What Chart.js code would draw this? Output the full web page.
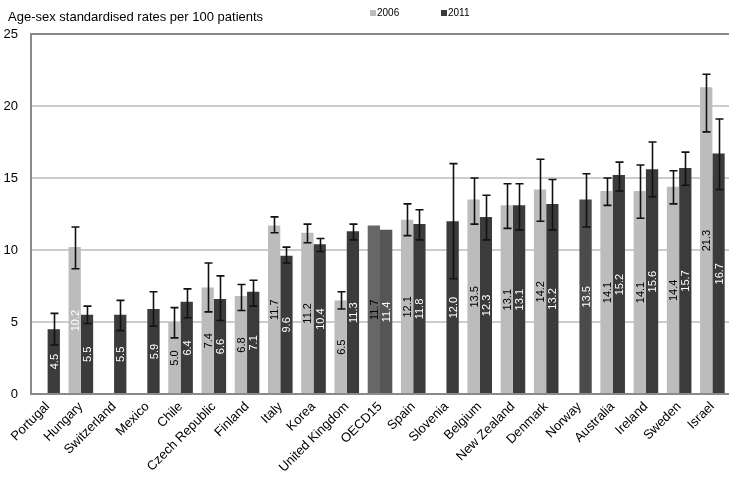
<!DOCTYPE html>
<html>
<head>
<meta charset="utf-8">
<script src="https://cdn.jsdelivr.net/npm/chart.js@4.4.1/dist/chart.umd.min.js"></script>
<style>
  html, body { margin: 0; padding: 0; background: #fff; }
  #wrap { width: 729px; height: 478px; position: relative; }
</style>
</head>
<body>
<div id="wrap"><canvas id="c"></canvas></div>
<script>
// Countries, in ascending order of the 2011 rate
const countries = ['Portugal', 'Hungary', 'Switzerland', 'Mexico', 'Chile', 'Czech Republic', 'Finland',
  'Italy', 'Korea', 'United Kingdom', 'OECD15', 'Spain', 'Slovenia', 'Belgium', 'New Zealand',
  'Denmark', 'Norway', 'Australia', 'Ireland', 'Sweden', 'Israel'];

// Age-sex standardised rates per 100 patients
const rates2006 = [null, 10.2, null, null, 5.0, 7.4, 6.8, 11.7, 11.2, 6.5, 11.7, 12.1, null, 13.5, 13.1, 14.2, null, 14.1, 14.1, 14.4, 21.3];
const rates2011 = [4.5, 5.5, 5.5, 5.9, 6.4, 6.6, 7.1, 9.6, 10.4, 11.3, 11.4, 11.8, 12.0, 12.3, 13.1, 13.2, 13.5, 15.2, 15.6, 15.7, 16.7];

// 95% confidence intervals
const low2006  = [null, 8.7, null, null, 3.9, 5.7, 5.8, 11.2, 10.5, 5.9, null, 11.0, null, 11.8, 11.5, 12.0, null, 13.1, 12.2, 13.2, 18.2];
const high2006 = [null, 11.6, null, null, 6.0, 9.1, 7.6, 12.3, 11.8, 7.1, null, 13.2, null, 15.0, 14.6, 16.3, null, 15.0, 15.9, 15.5, 22.2];
const low2011  = [3.4, 4.9, 4.4, 4.7, 5.3, 5.1, 6.1, 9.1, 9.9, 10.7, null, 10.7, 8.0, 10.7, 11.4, 11.4, 11.6, 14.1, 13.7, 14.5, 14.2];
const high2011 = [5.6, 6.1, 6.5, 7.1, 7.3, 8.2, 7.9, 10.2, 10.8, 11.8, null, 12.8, 16.0, 13.8, 14.6, 14.9, 15.3, 16.1, 17.5, 16.8, 19.1];

const yTicks = [0, 5, 10, 15, 20, 25];

const LIGHT = '#bcbcbc', DARK = '#3b3b3b';
const fill2006 = countries.map(c => c === 'OECD15' ? '#676767' : LIGHT);
const fill2011 = countries.map(c => c === 'OECD15' ? '#555555' : (c === 'Norway' ? '#4b4b4b' : DARK));
const text2006 = countries.map(c => c === 'Hungary' ? '#ffffff' : '#000000');
const text2011 = countries.map(() => '#ffffff');

const FONT = '"Liberation Sans", Arial, sans-serif';

// Frame around the plot area
const framePlugin = {
  id: 'frame',
  afterDatasetsDraw(chart) {
    const { ctx, chartArea: a } = chart;
    ctx.save();
    ctx.strokeStyle = '#8a8a8a';
    ctx.lineWidth = 2;
    ctx.beginPath();
    ctx.moveTo(a.right + 2, a.top);
    ctx.lineTo(a.left, a.top);
    ctx.lineTo(a.left, a.bottom);
    ctx.lineTo(a.right + 2, a.bottom);
    ctx.stroke();
    ctx.restore();
  }
};

// Confidence-interval whiskers
const errorBarPlugin = {
  id: 'errorBars',
  afterDatasetsDraw(chart) {
    const { ctx } = chart;
    const y = chart.scales.y;
    ctx.save();
    ctx.strokeStyle = '#111';
    ctx.lineWidth = 1.6;
    chart.data.datasets.forEach((ds, di) => {
      const meta = chart.getDatasetMeta(di);
      meta.data.forEach((bar, i) => {
        const lo = ds.low[i], hi = ds.high[i];
        if (lo == null || hi == null || ds.data[i] == null) return;
        const x = Math.round(bar.x) + 0.5;
        const yl = y.getPixelForValue(lo), yh = y.getPixelForValue(hi);
        ctx.beginPath();
        ctx.moveTo(x, yl); ctx.lineTo(x, yh);
        ctx.moveTo(x - 4, yl); ctx.lineTo(x + 4, yl);
        ctx.moveTo(x - 4, yh); ctx.lineTo(x + 4, yh);
        ctx.stroke();
      });
    });
    ctx.restore();
  }
};

// Vertical value labels centred in each bar
const valueLabelPlugin = {
  id: 'valueLabels',
  afterDatasetsDraw(chart) {
    const { ctx } = chart;
    const y = chart.scales.y;
    ctx.save();
    ctx.font = '11px ' + FONT;
    ctx.textAlign = 'center';
    ctx.textBaseline = 'middle';
    chart.data.datasets.forEach((ds, di) => {
      const meta = chart.getDatasetMeta(di);
      meta.data.forEach((bar, i) => {
        const v = ds.data[i];
        if (v == null) return;
        const yc = (y.getPixelForValue(0) + y.getPixelForValue(v)) / 2;
        ctx.save();
        ctx.translate(bar.x, yc);
        ctx.rotate(-Math.PI / 2);
        ctx.fillStyle = ds.labelColors[i];
        ctx.fillText(v.toFixed(1), 0, 1);
        ctx.restore();
      });
    });
    ctx.restore();
  }
};

// Axis caption and legend in the top band
const headerPlugin = {
  id: 'header',
  afterDraw(chart) {
    const { ctx } = chart;
    ctx.save();
    ctx.fillStyle = '#000';
    ctx.textBaseline = 'middle';
    ctx.font = '13px ' + FONT;
    ctx.fillText('Age-sex standardised rates per 100 patients', 8, 17);
    ctx.font = '10px ' + FONT;
    const items = [{ x: 370, c: LIGHT, t: chart.data.datasets[0].label },
                   { x: 441, c: DARK, t: chart.data.datasets[1].label }];
    items.forEach(it => {
      ctx.fillStyle = it.c;
      ctx.fillRect(it.x, 10, 6, 6);
      ctx.fillStyle = '#000';
      ctx.fillText(it.t, it.x + 7, 13.5);
    });
    ctx.restore();
  }
};

new Chart(document.getElementById('c'), {
  type: 'bar',
  data: {
    labels: countries,
    datasets: [
      { label: '2006', data: rates2006, low: low2006, high: high2006,
        backgroundColor: fill2006, labelColors: text2006 },
      { label: '2011', data: rates2011, low: low2011, high: high2011,
        backgroundColor: fill2011, labelColors: text2011 }
    ]
  },
  options: {
    responsive: true,
    maintainAspectRatio: false,
    animation: false,
    layout: { padding: { top: 34, right: 0, left: 0, bottom: 0 } },
    plugins: { legend: { display: false }, tooltip: { enabled: false } },
    datasets: { bar: { barPercentage: 1.0, categoryPercentage: 0.74, borderWidth: 0 } },
    scales: {
      x: {
        grid: { display: false, drawTicks: false },
        border: { display: false },
        afterFit(axis) { axis.height = 84; axis.paddingLeft = 0; axis.paddingRight = 0; axis.paddingTop = 0; },
        ticks: { color: '#000', font: { family: FONT, size: 13 }, minRotation: 45, maxRotation: 45, padding: 5, autoSkip: false }
      },
      y: {
        min: 0, max: 25,
        afterBuildTicks(axis) { axis.ticks = yTicks.map(v => ({ value: v })); },
        afterFit(axis) { axis.width = 31; axis.paddingTop = 0; axis.paddingBottom = 0; },
        grid: {
          color: ctx => (ctx.tick && (ctx.tick.value === 0 || ctx.tick.value === 25)) ? 'rgba(0,0,0,0)' : '#cccccc',
          lineWidth: 2, drawTicks: false
        },
        border: { display: false },
        ticks: { color: '#000', font: { family: FONT, size: 13 }, padding: 13 }
      }
    }
  },
  plugins: [framePlugin, errorBarPlugin, valueLabelPlugin, headerPlugin]
});
</script>
</body>
</html>
